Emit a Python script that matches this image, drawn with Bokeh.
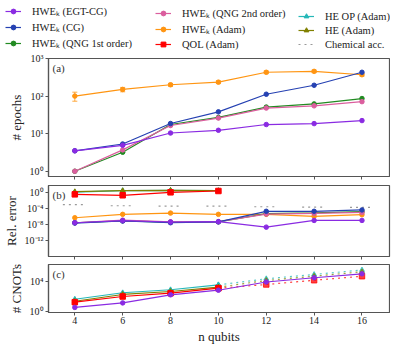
import numpy as np
from bokeh.plotting import figure
from bokeh.layouts import column
from bokeh.models import (Range1d, FixedTicker, CustomJSTickFormatter, Label, Legend,
                          LegendItem, ColumnDataSource, Whisker, TeeHead)
from bokeh.embed import file_html
from bokeh.resources import INLINE

# ---------------- data ----------------
n_qubits = [4, 6, 8, 10, 12, 14, 16]
n_short = [4, 6, 8, 10]

# (a) number of epochs
ep_egtcg = [3.5, 4.9, 10.4, 12.3, 17.5, 18.5, 22.3]
ep_cg = [3.5, 5.3, 18.6, 38, 112, 194, 430]
ep_qng1 = [1.0, 3.2, 17.5, 27, 51, 62, 86]
ep_qng2 = [1.0, 3.7, 16.5, 26, 48, 55, 71]
ep_adam = [100, 150, 200, 235, 430, 455, 370]
ep_adam_err = [27, 20, 18, 20, 35, 35, 30]

# (b) relative error
re_egtcg = [3e-8, 1e-7, 4.5e-8, 5.4e-8, 2.5e-9, 1.1e-7, 1.1e-7]
re_cg = [2.5e-8, 8e-8, 3e-8, 5e-8, 1.9e-5, 1.9e-5, 4e-5]
re_qng1 = [3e-8, 9e-8, 4e-8, 5e-8, 5e-6, 8e-6, 1.5e-5]
re_qng2 = [3e-8, 1.3e-7, 5e-8, 5.5e-8, 4e-6, 6e-6, 1e-5]
re_adam = [5e-7, 3.4e-6, 7e-6, 3.4e-6, 3.4e-6, 1.1e-6, 2.8e-6]
re_qol = [0.27, 0.16, 0.85, 1.8]
re_heop = [0.9, 2.2, 2.6, 2.2]
re_he = [1.2, 2.1, 2.5, 2.1]
chem_acc = [8e-4, 4.4e-4, 3.7e-4, 3.7e-4, 2.5e-4, 2.1e-4, 1.8e-4]

# (c) number of CNOTs
cn_hwe = [3, 12, 145, 590, 7400, 27000, 91000]
cn_qol = [15, 86, 235, 1100, 3400, 12600, 43000]
cn_he = [20, 160, 400, 1500, 11700, 44000, 170000]
cn_heop = [37, 270, 680, 3100, 20000, 74000, 295000]

labels = ["HWEₖ (EGT-CG)", "HWEₖ (CG)", "HWEₖ (QNG 1st order)",
          "HWEₖ (QNG 2nd order)", "HWEₖ (Adam)", "QOL (Adam)",
          "HE OP (Adam)", "HE (Adam)", "Chemical acc."]

# ---------------- style ----------------
C_PURPLE = "#8A2BE2"
C_BLUE = "#2541B2"
C_GREEN = "#228B22"
C_PINK = "#DB5E9E"
C_ORANGE = "#FF9512"
C_RED = "#FF0000"
C_CYAN = "#26B8B8"
C_OLIVE = "#808000"
C_GRAY = "#999999"
FONT = "Liberation Serif"
FRAME = "#555555"

FW = 341
BL = 47
BR = 2
XR = (2.9, 17.15)

fmt = CustomJSTickFormatter(code="""
const e = Math.round(Math.log10(tick));
const m = {'-':'\u207b','0':'\u2070','1':'\u00b9','2':'\u00b2','3':'\u00b3','4':'\u2074',
           '5':'\u2075','6':'\u2076','7':'\u2077','8':'\u2078','9':'\u2079'};
return '10' + String(e).split('').map(c => m[c]).join('');
""")


def mk_fig(fh, yr, btop, bbot, yticks, ylabel, show_x):
    p = figure(frame_width=FW, frame_height=fh, x_range=Range1d(*XR), y_range=Range1d(*yr),
               y_axis_type="log", output_backend="svg", toolbar_location=None,
               min_border_left=BL, min_border_right=BR, min_border_top=btop,
               min_border_bottom=bbot)
    p.grid.visible = False
    p.outline_line_color = FRAME
    p.outline_line_width = 1.2
    p.background_fill_color = "white"
    p.border_fill_color = "white"
    if show_x:
        p.xaxis.ticker = FixedTicker(ticks=n_qubits)
    else:
        p.xaxis.ticker = FixedTicker(ticks=[], minor_ticks=n_qubits)
    p.yaxis.ticker = FixedTicker(ticks=yticks)
    p.yaxis.formatter = fmt
    for ax in (p.xaxis[0], p.yaxis[0]):
        ax.axis_line_color = FRAME
        ax.axis_line_width = 1.2
        ax.major_tick_line_color = FRAME
        ax.major_tick_out = 3
        ax.major_tick_in = 0
        ax.minor_tick_line_color = None
        ax.major_label_text_font = FONT
        ax.major_label_text_font_size = "10px"
        ax.major_label_text_color = "#222222"
        ax.axis_label_text_font = FONT
        ax.axis_label_text_font_style = "normal"
        ax.axis_label_text_color = "#222222"
    p.yaxis.major_label_standoff = 2
    p.yaxis.axis_label = ylabel
    p.yaxis.axis_label_text_font_size = "13px"
    p.yaxis.axis_label_standoff = 3
    if show_x:
        p.xaxis.major_label_standoff = 1
        p.xaxis.axis_label = "n qubits"
        p.xaxis.axis_label_text_font_size = "13px"
        p.xaxis.axis_label_standoff = 2
    else:
        p.xaxis.minor_tick_line_color = FRAME
        p.xaxis.minor_tick_out = 3
        p.xaxis.minor_tick_in = 0
        p.xaxis.major_label_standoff = 0
    return p


def add_tag(p, text, ytop):
    p.add_layout(Label(x=XR[0], y=ytop, text=text, x_offset=4, y_offset=-3,
                       text_baseline="top", text_font=FONT, text_font_size="11px",
                       text_color="#333333"))


def series(p, x, y, color, marker="circle", size=4.5, dash="solid", alpha=1.0, lw=1.2):
    p.line(x, y, line_color=color, line_width=lw, line_dash=dash, line_alpha=alpha)
    p.scatter(x, y, marker=marker, size=size, color=color, alpha=alpha)


def errbars(p, x, y, err, color):
    y = np.array(y, dtype=float)
    e = np.array(err, dtype=float)
    src = ColumnDataSource(dict(x=x, lo=y - e, hi=y + e))
    p.add_layout(Whisker(source=src, base="x", lower="lo", upper="hi", dimension="height",
                         line_color=color, line_width=1.0, line_alpha=0.8,
                         lower_head=TeeHead(size=5, line_color=color, line_alpha=0.8),
                         upper_head=TeeHead(size=5, line_color=color, line_alpha=0.8)))


# ---------------- legend panel ----------------
p0 = figure(frame_width=BL + FW + BR, frame_height=50, x_range=Range1d(0, 1),
            y_range=Range1d(0, 1), output_backend="svg", toolbar_location=None, min_border=0)
p0.axis.visible = False
p0.grid.visible = False
p0.outline_line_color = None

leg_specs = [(C_PURPLE, "circle", 4.5), (C_BLUE, "circle", 4.5), (C_GREEN, "circle", 4.5),
             (C_PINK, "circle", 4.5), (C_ORANGE, "circle", 4.5), (C_RED, "square", 5.5),
             (C_CYAN, "triangle", 5), (C_OLIVE, "triangle", 5)]
NAN = [float("nan")]
items = []
for lab, (col, mk, sz) in zip(labels[:-1], leg_specs):
    r1 = p0.line(x=NAN, y=NAN, line_color=col, line_width=1.2)
    r2 = p0.scatter(x=NAN, y=NAN, marker=mk, size=sz, color=col)
    r3 = p0.scatter(x=NAN, y=NAN, marker="dash", angle=np.pi / 2, size=11, line_color=col,
                    line_width=1.0, line_alpha=0.8)
    items.append(LegendItem(label=lab, renderers=[r1, r2, r3]))
rc = p0.line(x=NAN, y=NAN, line_color=C_GRAY, line_width=1.2, line_dash="dotted")
items.append(LegendItem(label=labels[-1], renderers=[rc]))

for ci, xloc in enumerate([5, 155, 298]):
    leg = Legend(items=items[3 * ci:3 * ci + 3], location=(xloc, 0), orientation="vertical",
                 glyph_width=16, glyph_height=12, label_height=12, label_width=20,
                 label_standoff=11, spacing=2, padding=0, margin=0,
                 border_line_color=None, background_fill_alpha=0,
                 label_text_font=FONT, label_text_font_size="10.5px",
                 label_text_color="#222222")
    p0.add_layout(leg)

# ---------------- (a) epochs ----------------
ya = (10 ** -0.14, 1000)
pa = mk_fig(118, ya, 8, 4, [1, 10, 100, 1000], "# epochs", False)
errbars(pa, n_qubits, ep_adam, ep_adam_err, C_ORANGE)
series(pa, n_qubits, ep_adam, C_ORANGE)
series(pa, n_qubits, ep_qng1, C_GREEN)
series(pa, n_qubits, ep_qng2, C_PINK)
series(pa, n_qubits, ep_cg, C_BLUE)
series(pa, n_qubits, ep_egtcg, C_PURPLE)
add_tag(pa, "(a)", ya[1])

# ---------------- (b) relative error ----------------
yb = (10 ** -15.8, 10 ** 1.6)
pb = mk_fig(71, yb, 5, 4, [1, 1e-4, 1e-8, 1e-12], "Rel. error", False)
nq = np.array(n_qubits, dtype=float)
pb.segment(x0=nq - 0.5, x1=nq + 0.5, y0=chem_acc, y1=chem_acc, line_color=C_GRAY,
           line_width=1.2, line_dash="dotted")
series(pb, n_short, re_heop, C_CYAN, marker="triangle", size=5)
series(pb, n_short, re_he, C_OLIVE, marker="triangle", size=5)
series(pb, n_short, re_qol, C_RED, marker="square", size=5.5)
series(pb, n_qubits, re_adam, C_ORANGE)
series(pb, n_qubits, re_qng1, C_GREEN)
series(pb, n_qubits, re_qng2, C_PINK)
series(pb, n_qubits, re_cg, C_BLUE)
series(pb, n_qubits, re_egtcg, C_PURPLE)
add_tag(pb, "(b)", yb[1])

# ---------------- (c) CNOTs ----------------
yc = (10 ** -0.2, 10 ** 6.2)
pc = mk_fig(48, yc, 4, 32, [1, 1e4], "# CNOTs", True)
for vals, col, mk, sz in [(cn_heop, C_CYAN, "triangle", 5), (cn_he, C_OLIVE, "triangle", 5),
                          (cn_qol, C_RED, "square", 5.5)]:
    series(pc, n_qubits[:4], vals[:4], col, marker=mk, size=sz)
    series(pc, n_qubits[3:], vals[3:], col, marker=mk, size=sz, dash="dotted", alpha=0.75)
series(pc, n_qubits, cn_hwe, C_PURPLE)
add_tag(pc, "(c)", yc[1])

layout = column(p0, pa, pb, pc, spacing=0)
open("out.html", "w").write(file_html(layout, INLINE))
